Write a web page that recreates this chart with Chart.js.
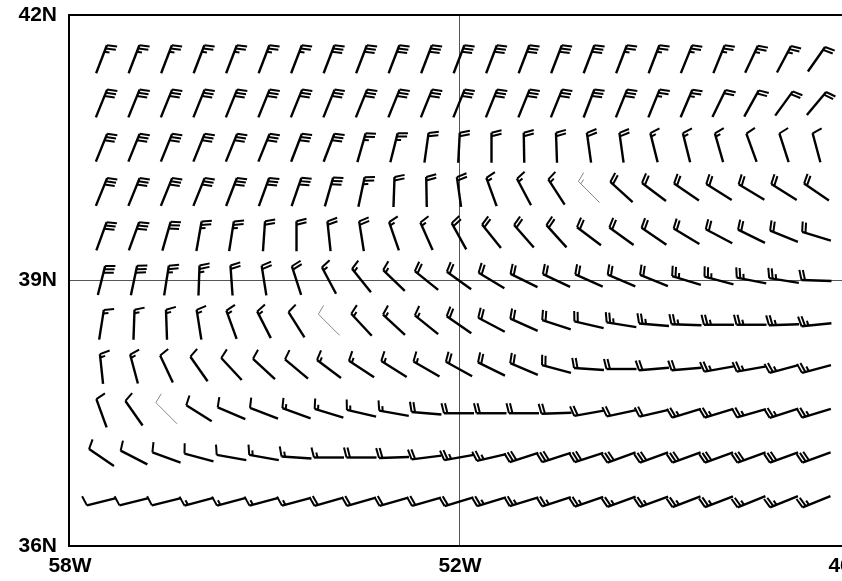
<!DOCTYPE html>
<html>
<head>
<meta charset="utf-8">
<script src="https://cdn.jsdelivr.net/npm/chart.js@4.4.0/dist/chart.umd.min.js"></script>
<style>
    body { margin: 0; overflow: hidden; background: #fff; }
    #wrap { width: 900px; height: 581px; }
</style>
</head>
<body>
<div id="wrap"><canvas id="myChart" width="900" height="581"></canvas></div>
<script>
// grid of the barbs
var lons = [-57.5, -57, -56.5, -56, -55.5, -55, -54.5, -54, -53.5, -53, -52.5, -52, -51.5, -51, -50.5, -50, -49.5, -49, -48.5, -48, -47.5, -47, -46.5];
var lats = [41.5, 41, 40.5, 40, 39.5, 39, 38.5, 38, 37.5, 37, 36.5];
var xTicks = [-58, -52, -46];
var yTicks = [36, 39, 42];

// direction the wind comes from (deg, 0 = north, negative = west of north), one row per latitude
var windDir = [
    [21, 21, 21, 21, 21, 21, 21, 21, 21, 21, 21, 21, 21, 21, 21, 21, 21, 21, 22, 22, 25, 28, 35],
    [22, 22, 22, 22, 22, 22, 22, 22, 22, 22, 22, 22, 22, 22, 22, 21, 22, 22, 23, 26, 29, 36, 40],
    [22, 22, 22, 22, 22, 22, 21, 21, 16, 14, 8, 3, 0, -1, -2, -8, -8, -14, -14, -16, -20, -18, -15],
    [22, 22, 22, 22, 21, 20, 19, 16, 12, 2, -1, -8, -20, -28, -33, -45, -48, -53, -56, -58, -59, -58, -56],
    [20, 20, 16, 10, 9, 4, 0, -6, -9, -19, -24, -29, -39, -41, -42, -53, -54, -56, -59, -62, -64, -68, -73],
    [14, 12, 9, 2, -4, -9, -18, -28, -39, -46, -51, -54, -59, -64, -65, -66, -67, -68, -73, -75, -79, -81, -88],
    [9, 2, -2, -9, -20, -27, -32, -45, -43, -47, -51, -55, -62, -66, -72, -77, -81, -85, -88, -90, -90, -92, -96],
    [-6, -15, -25, -35, -43, -47, -50, -53, -57, -58, -60, -61, -64, -67, -75, -86, -90, -95, -95, -100, -100, -105, -105],
    [-20, -35, -45, -58, -67, -69, -70, -73, -77, -80, -85, -90, -90, -90, -92, -100, -102, -103, -107, -107, -106, -108, -107],
    [-56, -63, -70, -75, -80, -80, -86, -90, -90, -92, -97, -100, -103, -108, -108, -108, -110, -110, -110, -110, -110, -110, -110],
    [-104, -104, -104, -105, -105, -105, -105, -106, -106, -106, -106, -107, -107, -107, -108, -109, -110, -110, -111, -111, -112, -112, -112]
];

// wind speed (full barb = 10, half barb = 5)
var windSpd = [
    [25, 25, 25, 25, 25, 25, 25, 30, 30, 30, 30, 30, 30, 30, 30, 30, 25, 25, 25, 25, 25, 25, 20],
    [30, 30, 30, 30, 30, 30, 30, 30, 30, 30, 30, 30, 30, 30, 30, 30, 30, 25, 25, 20, 20, 20, 20],
    [30, 30, 30, 30, 30, 30, 30, 30, 25, 25, 20, 20, 20, 20, 20, 20, 20, 15, 15, 15, 10, 10, 10],
    [30, 30, 30, 30, 30, 30, 30, 30, 25, 20, 20, 20, 15, 15, 15, 15, 20, 20, 20, 20, 20, 20, 20],
    [30, 30, 30, 25, 25, 20, 20, 20, 20, 15, 15, 20, 20, 20, 20, 20, 20, 20, 20, 20, 20, 20, 20],
    [30, 30, 25, 25, 20, 20, 20, 15, 15, 15, 20, 20, 20, 20, 20, 20, 20, 20, 25, 25, 25, 25, 20],
    [15, 15, 15, 15, 15, 15, 10, 10, 15, 15, 15, 20, 20, 20, 20, 20, 25, 25, 25, 25, 25, 25, 25],
    [15, 15, 10, 10, 10, 10, 10, 15, 15, 15, 15, 20, 20, 20, 20, 20, 20, 20, 20, 25, 25, 25, 25],
    [10, 10, 10, 10, 10, 10, 15, 15, 15, 15, 20, 20, 20, 20, 20, 20, 20, 20, 25, 25, 25, 25, 25],
    [10, 10, 10, 10, 10, 15, 15, 15, 20, 20, 20, 25, 25, 30, 30, 30, 30, 30, 30, 30, 30, 30, 30],
    [10, 10, 10, 15, 15, 15, 15, 20, 20, 20, 20, 20, 25, 25, 25, 25, 25, 25, 25, 25, 25, 25, 25]
];

var points = [];
lats.forEach(function (lat, r) {
    lons.forEach(function (lon, c) {
        points.push({ x: lon, y: lat, dir: windDir[r][c], spd: windSpd[r][c] });
    });
});

function drawBarb(ctx, cx, cy, dir, spd) {
    var a = dir * Math.PI / 180;
    var dx = Math.sin(a), dy = -Math.cos(a);
    var px = -dy, py = dx; // barbs on the right hand side
    var half = 15;
    var tipX = cx + dx * half, tipY = cy + dy * half;
    var thin = Math.abs(dir + 45) < 0.01; // the grey ones in the picture sit at exactly 45 deg

    ctx.save();
    ctx.strokeStyle = thin ? '#888' : '#000';
    ctx.lineWidth = thin ? 1 : 2.4;
    ctx.lineCap = 'butt';
    ctx.beginPath();
    ctx.moveTo(cx - dx * half, cy - dy * half);
    ctx.lineTo(tipX, tipY);
    ctx.stroke();

    var full = Math.floor(spd / 10);
    var halfBarb = (spd % 10) >= 5;
    var pos = 0;
    ctx.lineWidth = thin ? 1 : 2;
    for (var i = 0; i < full; i++) {
        var sx = tipX - dx * pos, sy = tipY - dy * pos;
        ctx.beginPath();
        ctx.moveTo(sx, sy);
        ctx.lineTo(sx + px * 10 + dx * 2.5, sy + py * 10 + dy * 2.5);
        ctx.stroke();
        pos += 3.5;
    }
    if (halfBarb) {
        var hx = tipX - dx * pos, hy = tipY - dy * pos;
        ctx.beginPath();
        ctx.moveTo(hx, hy);
        ctx.lineTo(hx + px * 5 + dx * 1.2, hy + py * 5 + dy * 1.2);
        ctx.stroke();
    }
    ctx.restore();
}

var barbPlugin = {
    id: 'barbs',
    afterDatasetsDraw: function (chart) {
        var ctx = chart.ctx;
        var meta = chart.getDatasetMeta(0);
        var data = chart.data.datasets[0].data;
        meta.data.forEach(function (pt, i) {
            drawBarb(ctx, pt.x, pt.y, data[i].dir, data[i].spd);
        });
    },
    afterDraw: function (chart) {
        var a = chart.chartArea;
        var ctx = chart.ctx;
        ctx.save();
        ctx.strokeStyle = '#000';
        ctx.lineWidth = 2;
        ctx.strokeRect(a.left, a.top, a.right - a.left, a.bottom - a.top);
        ctx.restore();
    }
};

var labelFont = { family: 'Liberation Sans, Arial, sans-serif', size: 21, weight: 'bold' };

new Chart(document.getElementById('myChart'), {
    type: 'scatter',
    data: {
        datasets: [{
            data: points,
            pointRadius: 0,
            pointHoverRadius: 0,
            showLine: false
        }]
    },
    options: {
        responsive: false,
        animation: false,
        events: [],
        layout: { padding: { top: 15, right: 51, left: 0, bottom: 0 } },
        plugins: { legend: { display: false }, tooltip: { enabled: false } },
        scales: {
            x: {
                type: 'linear',
                min: -58,
                max: -46,
                afterBuildTicks: function (s) {
                    s.ticks = xTicks.map(function (v) { return { value: v }; });
                },
                afterFit: function (s) {
                    s.height = 35;
                    s.paddingLeft = 0;
                    s.paddingRight = 0;
                },
                border: { display: false },
                grid: {
                    drawTicks: false,
                    lineWidth: 1,
                    color: function (c) {
                        return c.tick && c.tick.value === -52 ? '#555' : 'rgba(0,0,0,0)';
                    }
                },
                ticks: {
                    autoSkip: false,
                    maxRotation: 0,
                    padding: 8,
                    labelOffset: 1,
                    color: '#000',
                    font: labelFont,
                    callback: function (v) { return Math.abs(v) + 'W'; }
                }
            },
            y: {
                type: 'linear',
                min: 36,
                max: 42,
                afterBuildTicks: function (s) {
                    s.ticks = yTicks.map(function (v) { return { value: v }; });
                },
                afterFit: function (s) {
                    s.width = 69;
                    s.paddingTop = 0;
                    s.paddingBottom = 0;
                },
                border: { display: false },
                grid: {
                    drawTicks: false,
                    lineWidth: 1,
                    color: function (c) {
                        return c.tick && c.tick.value === 39 ? '#555' : 'rgba(0,0,0,0)';
                    }
                },
                ticks: {
                    padding: 12,
                    color: '#000',
                    font: labelFont,
                    callback: function (v) { return v + 'N'; }
                }
            }
        }
    },
    plugins: [barbPlugin]
});
</script>
</body>
</html>
